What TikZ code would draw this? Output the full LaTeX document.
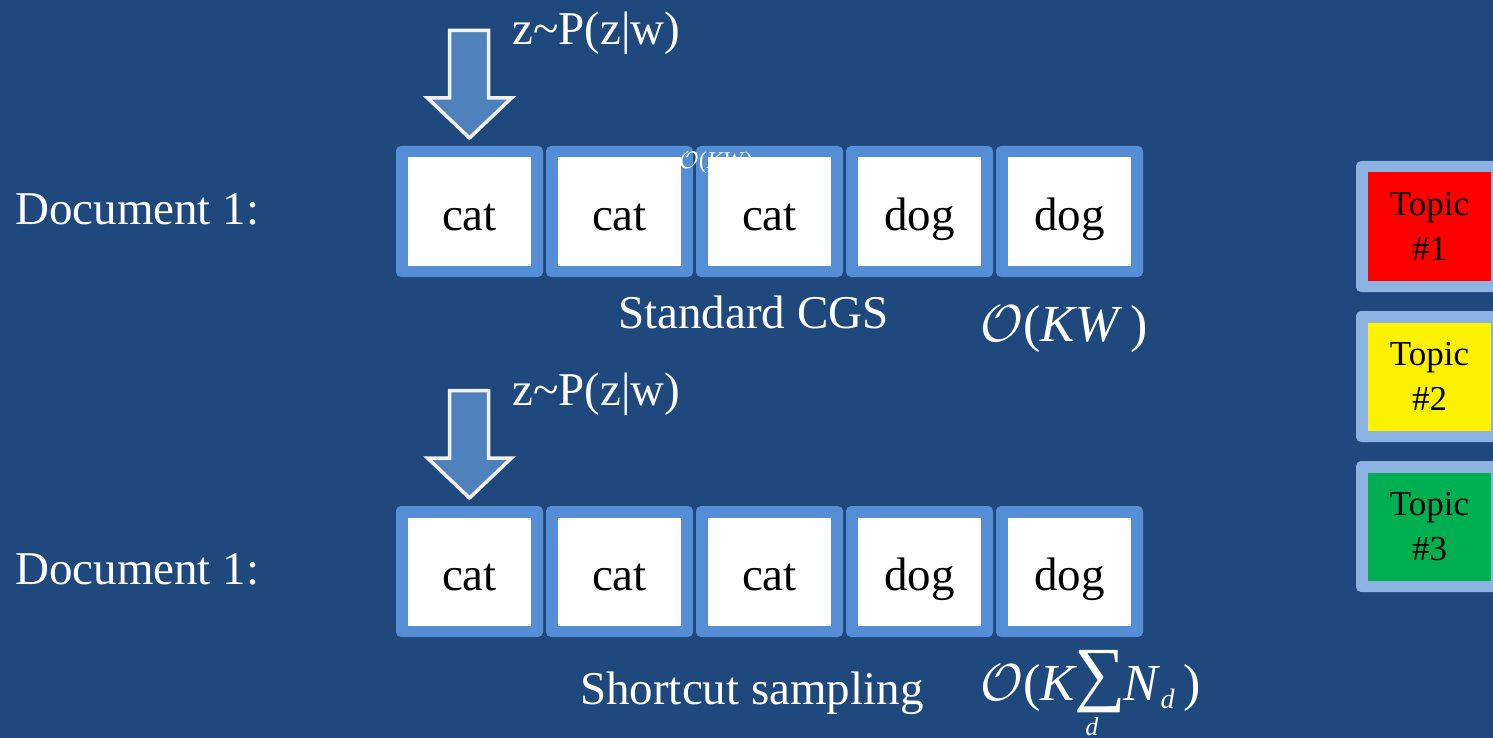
\RequirePackage{fix-cm}
\documentclass[tikz,border=0pt]{standalone}
\usepackage{amsmath}
\usepackage{fontspec}
\setmainfont{Liberation Serif}
\definecolor{bg}{HTML}{1F497D}
\definecolor{boxblue}{HTML}{558ED5}
\definecolor{topicborder}{HTML}{8DB3E2}
\definecolor{arrowfill}{HTML}{4F81BD}
\definecolor{arrowline}{HTML}{F2F2F2}
\definecolor{topicgreen}{HTML}{00B050}
\tikzset{
  wordbox/.style={rectangle, rounded corners=5pt, fill=boxblue, minimum width=147pt, minimum height=131pt, inner sep=0pt},
  wordin/.style={rectangle, fill=white, minimum width=123pt, minimum height=108pt, inner sep=0pt, text=black, text height=40pt, text depth=3pt, font=\fontsize{47}{56}\selectfont},
  topicbox/.style={rectangle, rounded corners=5pt, fill=topicborder, minimum width=147pt, minimum height=131pt, inner sep=0pt},
  topicin/.style={rectangle, minimum width=123pt, minimum height=108pt, inner sep=0pt, text=black, align=center, font=\fontsize{35}{45}\selectfont},
  label/.style={text=white, inner sep=0pt, font=\fontsize{47}{56}\selectfont},
  mathlabel/.style={text=white, inner sep=0pt, font=\fontsize{52}{60}\selectfont},
  blockarrow/.style={fill=arrowfill, draw=arrowline, line width=3.5pt, line join=miter},
}
\begin{document}
\begin{tikzpicture}[x=1pt,y=-1pt]
\fill[bg] (0,0) rectangle (1493,738);
\useasboundingbox (0,0) rectangle (1493,738);

% arrows
\draw[blockarrow] (449.5,30.5) -- (488.5,30.5) -- (488.5,98) -- (511.5,98) -- (469.5,138) -- (427.5,98) -- (449.5,98) -- cycle;
\draw[blockarrow] (449.5,390.5) -- (488.5,390.5) -- (488.5,458) -- (511.5,458) -- (469.5,498) -- (427.5,458) -- (449.5,458) -- cycle;

\node[label, anchor=base west] (zp1) at (512,45) {z\char`~P(z|w)};
\node[label, anchor=base west] (zp2) at (512,405) {z\char`~P(z|w)};

\node[label, anchor=base west] (doc1) at (15,224) {Document 1:};
\node[label, anchor=base west] (doc2) at (15,584) {Document 1:};

% row 1
\foreach \i/\w in {0/cat,1/cat,2/cat,3/dog,4/dog} {
  \node[wordbox] (ra\i) at (469.5+150*\i,211.5) {};
  \node[wordin] (wa\i) at (ra\i) {\w};
}
% row 2
\foreach \i/\w in {0/cat,1/cat,2/cat,3/dog,4/dog} {
  \node[wordbox] (rb\i) at (469.5+150*\i,571.5) {};
  \node[wordin] (wb\i) at (rb\i) {\w};
}

% tiny stray label
\node[text=white, inner sep=0pt, font=\fontsize{24}{28}\selectfont] (tiny) at (716,163) {$\mathcal{O}$(\textit{KW})};

\node[label, anchor=base west] (cgs) at (618,328) {Standard CGS};
\node[mathlabel, anchor=base west] (okw) at (980,341) {$\mathcal{O}$(\textit{KW}\,)};

\node[label, anchor=base west] (short) at (580,704) {Shortcut sampling};
\node[mathlabel, anchor=base west] (oks) at (980,700) {$\mathcal{O}$(\textit{K}\hspace{-3pt}{\fontsize{72}{72}\selectfont\raisebox{3pt}{∑}}\hspace{-2pt}\textit{N}\raisebox{-8pt}{\fontsize{28}{28}\selectfont\textit{d}}\,)};
\node[text=white, inner sep=0pt, anchor=base, font=\fontsize{26}{26}\selectfont] (sumd) at (1092,735) {\textit{d}};

% topics
\node[topicbox] (t1) at (1429.5,226.5) {};
\node[topicin, fill=red] (t1in) at (t1) {Topic\\\#1};
\node[topicbox] (t2) at (1429.5,376.5) {};
\node[topicin, fill=yellow] (t2in) at (t2) {Topic\\\#2};
\node[topicbox] (t3) at (1429.5,526.5) {};
\node[topicin, fill=topicgreen] (t3in) at (t3) {Topic\\\#3};
\end{tikzpicture}
\end{document}
